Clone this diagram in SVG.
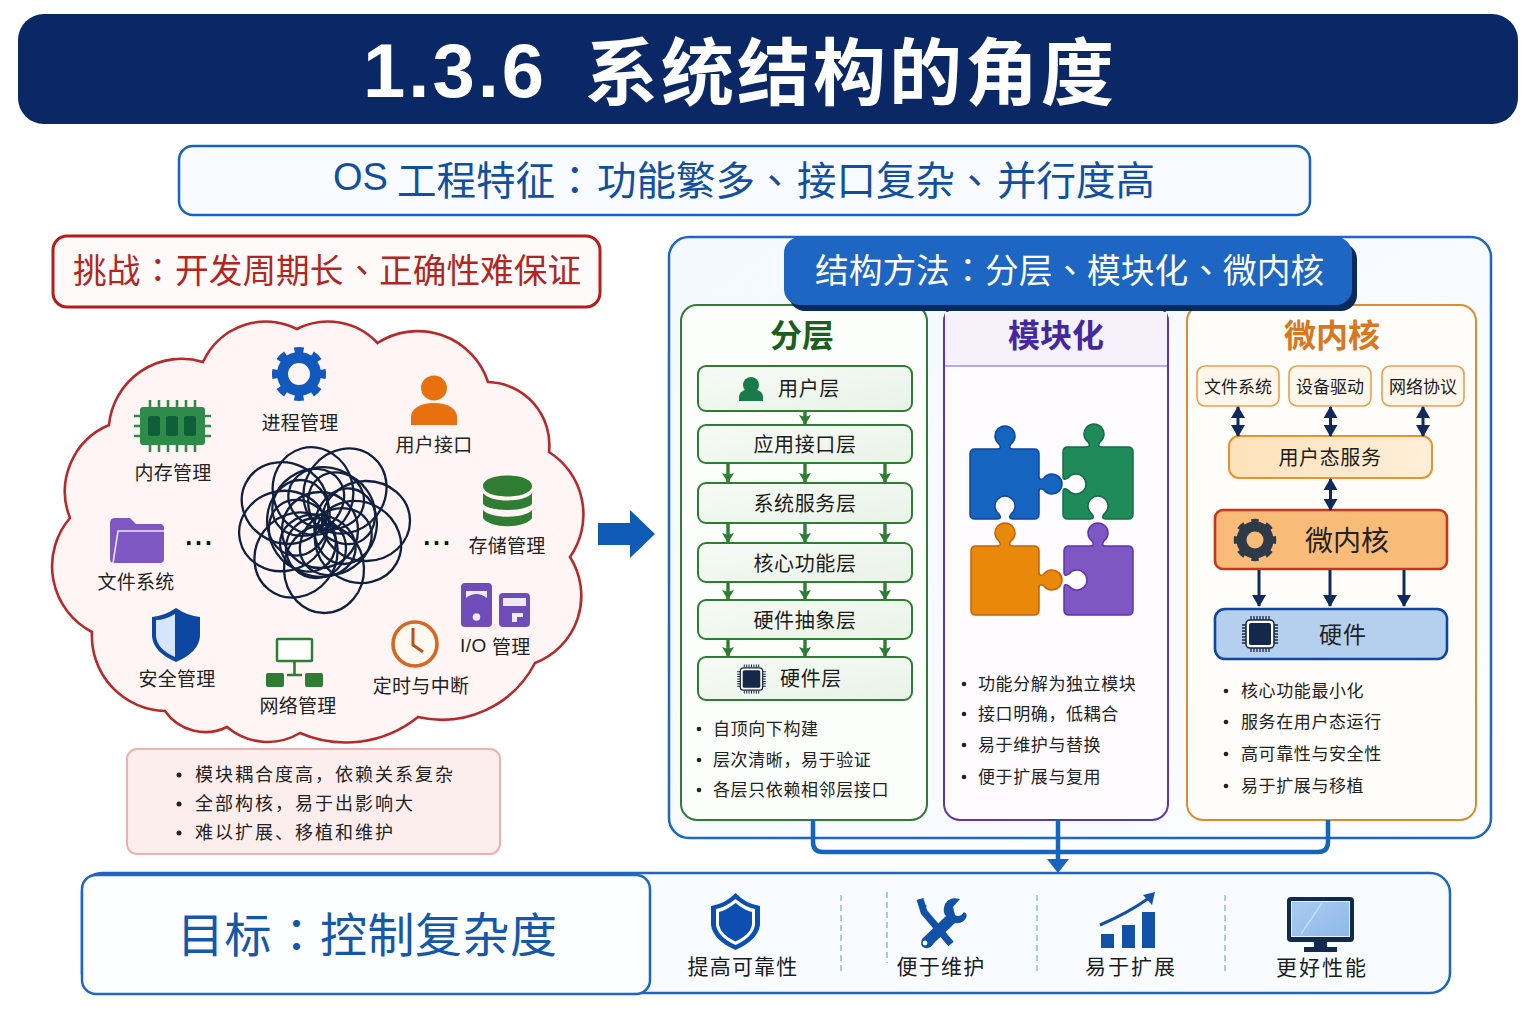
<svg xmlns="http://www.w3.org/2000/svg" xmlns:xlink="http://www.w3.org/1999/xlink" width="1536" height="1024" viewBox="0 0 1536 1024">
<style>
text{font-family:"Noto Sans CJK SC","Liberation Sans",sans-serif;fill:#1a1a1a;dominant-baseline:central;transform:translateY(-.09em)}
.m{text-anchor:middle}
.p{font-family:"Noto Sans CJK TC","Noto Sans CJK SC",sans-serif}
.ic{font-size:19px;letter-spacing:.3px;fill:#222}
.ly{font-size:20px;letter-spacing:.6px;fill:#1c1c1c}
.bl{font-size:17px;letter-spacing:.6px;fill:#222}
.pb{font-size:18px;letter-spacing:2px;fill:#222}
.gl{font-size:21px;letter-spacing:1.2px;fill:#1c1c1c}
.hd{font-size:32px;font-weight:700}
.sm{font-size:17px;fill:#1c1c1c}
.dots{font-size:25px;font-weight:700;letter-spacing:1.500px;font-family:"Liberation Sans",sans-serif;fill:#111}
.layer{fill:url(#gLayer);stroke:#2e7d32;stroke-width:2}
.small{fill:#fff7ec;stroke:#e8a050;stroke-width:1.6}
.gc{stroke:#2e7d32;stroke-width:3.4;fill:none;marker-end:url(#mGreen)}
.nv{stroke:#0f2a5c;stroke-width:3;fill:none;marker-end:url(#mNavy)}
.nd{stroke:#0f2a5c;stroke-width:3;fill:none;marker-end:url(#mNavy);marker-start:url(#mNavyS)}
.sep{stroke:#7fb0e0;stroke-width:1.3;stroke-dasharray:6 4}
</style>
<defs>
<linearGradient id="gLayer" x1="0" y1="0" x2="1" y2="1"><stop offset="0" stop-color="#f6fbf5"/><stop offset="1" stop-color="#e8f3e7"/></linearGradient>
<linearGradient id="gPanel" x1="0" y1="0" x2="1" y2="1"><stop offset="0" stop-color="#f4f9ff"/><stop offset="1" stop-color="#fbfdff"/></linearGradient>
<linearGradient id="gUser" x1="0" y1="0" x2="1" y2="0"><stop offset="0" stop-color="#fde2ba"/><stop offset="1" stop-color="#ffeed8"/></linearGradient>
<linearGradient id="gScreen" x1="0" y1="0" x2="1" y2="1"><stop offset="0" stop-color="#a9cbf0"/><stop offset="1" stop-color="#8fb9ea"/></linearGradient>
<marker id="mGreen" markerUnits="userSpaceOnUse" markerWidth="13" markerHeight="13" refX="10" refY="6" orient="auto"><path d="M0 0L10 6L0 12L2 6z" fill="#2e7d32"/></marker>
<marker id="mNavy" markerUnits="userSpaceOnUse" markerWidth="13" markerHeight="14" refX="11" refY="7" orient="auto"><path d="M0 0L12 7L0 14z" fill="#0f2a5c"/></marker>
<marker id="mNavyS" markerUnits="userSpaceOnUse" markerWidth="13" markerHeight="14" refX="1" refY="7" orient="auto"><path d="M12 0L0 7L12 14z" fill="#0f2a5c"/></marker>
<g id="chip">
<g fill="none" stroke="#1a2a44" stroke-width="1.3">
<path d="M-9 -14V-18M-6 -14V-18M-3 -14V-18M0 -14V-18M3 -14V-18M6 -14V-18M9 -14V-18"/>
<path d="M-9 14V18M-6 14V18M-3 14V18M0 14V18M3 14V18M6 14V18M9 14V18"/>
<path d="M-14 -9H-18M-14 -6H-18M-14 -3H-18M-14 0H-18M-14 3H-18M-14 6H-18M-14 9H-18"/>
<path d="M14 -9H18M14 -6H18M14 -3H18M14 0H18M14 3H18M14 6H18M14 9H18"/>
</g>
<rect x="-14" y="-14" width="28" height="28" rx="4" fill="#fff" stroke="#1a2a44" stroke-width="1.6"/>
<rect x="-11" y="-11" width="22" height="22" rx="2" fill="#14294a"/>
</g>
<ellipse id="r2" cx="322" cy="498" rx="38" ry="31"/>
</defs>

<rect width="1536" height="1024" fill="#fff"/>

<g id="title">
<rect x="18" y="14" width="1500" height="110" rx="26" fill="#0a2866"/>
<text x="363" y="77" style="font-size:76px;font-weight:700;fill:#fff;letter-spacing:3px;font-family:'Liberation Sans',sans-serif">1.3.6</text>
<text x="585" y="74" style="font-size:73px;font-weight:700;fill:#fff;letter-spacing:3px">系统结构的角度</text>
</g>

<g id="subtitle">
<rect x="179" y="146" width="1131" height="69" rx="14" fill="#f8fbff" stroke="#1565c0" stroke-width="2.5"/>
<text y="181" style="font-size:39.500px;fill:#12509f"><tspan x="333" style="font-family:'Liberation Sans',sans-serif;font-size:38px">OS</tspan><tspan x="397">工程特征</tspan><tspan class="p" x="555">：</tspan><tspan x="597">功能繁多</tspan><tspan class="p" x="755">、</tspan><tspan x="797">接口复杂</tspan><tspan class="p" x="955">、</tspan><tspan x="997">并行度高</tspan></text>
</g>

<g id="challenge">
<rect x="53" y="236" width="547" height="71" rx="14" fill="#fffafa" stroke="#b71c1c" stroke-width="3"/>
<text y="271" style="font-size:33.700px;fill:#b3261e"><tspan x="73">挑战</tspan><tspan class="p" x="141">：</tspan><tspan x="175">开发周期长</tspan><tspan class="p" x="345">、</tspan><tspan x="379">正确性难保证</tspan></text>
</g>

<g id="cloud">
<path d="M297 329A68 68 0 0 1 377.500 343A74 74 0 0 1 488 382A63 63 0 0 1 549 452A74 74 0 0 1 570 557A72 72 0 0 1 535 663A105 105 0 0 1 418 717A115 115 0 0 1 300 733A63 63 0 0 1 227 727A49 49 0 0 1 165 711A75 75 0 0 1 92 632A74 74 0 0 1 70 518A72 72 0 0 1 109 425A73 73 0 0 1 203 362A69 69 0 0 1 297 329Z" fill="#fff5f5" stroke="#b52a2a" stroke-width="2.600"/>
</g>

<g id="tangle" fill="none" stroke="#10203f" stroke-width="2.300">
<ellipse cx="285" cy="503" rx="44" ry="40" transform="rotate(27 285 503)"/>
<ellipse cx="313" cy="491" rx="44" ry="40" transform="rotate(75 313 491)"/>
<ellipse cx="345" cy="491" rx="44" ry="40" transform="rotate(-52 345 491)"/>
<ellipse cx="366" cy="521" rx="44" ry="40" transform="rotate(-1 366 521)"/>
<ellipse cx="358" cy="542" rx="44" ry="40" transform="rotate(29 358 542)"/>
<ellipse cx="324" cy="569" rx="44" ry="40" transform="rotate(88 324 569)"/>
<ellipse cx="296" cy="555" rx="44" ry="40" transform="rotate(-52 296 555)"/>
<ellipse cx="283" cy="531" rx="44" ry="40" transform="rotate(-12 283 531)"/>
<use href="#r2" transform="rotate(10 322 522)"/><use href="#r2" transform="rotate(55 322 522)"/><use href="#r2" transform="rotate(100 322 522)"/><use href="#r2" transform="rotate(145 322 522)"/><use href="#r2" transform="rotate(190 322 522)"/><use href="#r2" transform="rotate(235 322 522)"/><use href="#r2" transform="rotate(280 322 522)"/><use href="#r2" transform="rotate(325 322 522)"/>
<circle cx="320" cy="530" r="38"/>
<circle cx="316" cy="548" r="30"/>
</g>

<g id="node-process">
<circle cx="299" cy="374" r="16.500" fill="none" stroke="#1259bd" stroke-width="11"/>
<circle cx="299" cy="374" r="23.500" fill="none" stroke="#1259bd" stroke-width="7" pathLength="16" stroke-dasharray="1 1" stroke-dashoffset=".5"/>
<text class="ic m" x="300" y="423">进程管理</text>
</g>
<g id="node-memory">
<path d="M150 400V452M159 400V452M168 400V452M177 400V452M186 400V452M195 400V452M134 416H211M134 426H211M134 436H211" stroke="#2e8b4a" stroke-width="2.600" fill="none"/>
<rect x="140" y="407" width="65" height="38" rx="3" fill="#2e8b4a"/>
<rect x="148" y="416" width="12" height="20" rx="2" fill="#0e5f3a"/><rect x="166" y="416" width="12" height="20" rx="2" fill="#0e5f3a"/><rect x="184" y="416" width="12" height="20" rx="2" fill="#0e5f3a"/>
<text class="ic m" x="173" y="473">内存管理</text>
</g>
<g id="node-ui">
<ellipse cx="434" cy="388" rx="13" ry="12.500" fill="#e8700f"/>
<path d="M411 425V417C411 409 420 403 434 403S457 409 457 417V425Z" fill="#e8700f"/>
<text class="ic m" x="434" y="445">用户接口</text>
</g>
<g id="node-storage">
<path d="M483 486C483 472 532 472 532 486S483 500 483 486ZM483 493C490 503 525 503 532 493V504C525 512 490 512 483 504ZM483 510C490 519 525 519 532 510V518C525 529 490 529 483 518Z" fill="#2e7d32"/>
<text class="ic m" x="507" y="546">存储管理</text>
</g>
<g id="node-files">
<path d="M110 523Q110 518 115 518H130L136 524H160Q164 524 164 528V559Q164 563 160 563H114Q110 563 110 559Z" fill="#7e57c2"/>
<path d="M113 563L118 531H164" fill="none" stroke="#ece4f8" stroke-width="1.600"/>
<text class="ic m" x="136" y="582">文件系统</text>
<text class="dots m" x="200" y="545">···</text>
<text class="dots m" x="438" y="545">···</text>
</g>
<g id="node-security">
<path d="M176 608Q188 616 200 617V636Q199 652 176 662Q153 652 152 636V617Q164 616 176 608Z" fill="#0d47a1"/>
<path d="M175 614Q165 620 156 620V636Q157 649 175 657Z" fill="#d6e6fa"/>
<text class="ic m" x="177" y="679">安全管理</text>
</g>
<g id="node-network">
<rect x="277" y="639" width="35" height="22" rx="1" fill="#fff" stroke="#2e7d32" stroke-width="2.500"/>
<path d="M294.500 661V675M287 675H302" stroke="#2e7d32" stroke-width="2.600" fill="none"/>
<rect x="266" y="673" width="18" height="14" rx="2" fill="#2e7d32"/><rect x="305" y="673" width="18" height="14" rx="2" fill="#2e7d32"/>
<text class="ic m" x="298" y="706">网络管理</text>
</g>
<g id="node-timer">
<circle cx="415" cy="644" r="22" fill="#fff9f2" stroke="#d9661f" stroke-width="3.600"/>
<path d="M413 628V645L423 652" fill="none" stroke="#b9501a" stroke-width="3"/>
<text class="ic m" x="421" y="686">定时与中断</text>
</g>
<g id="node-io">
<rect x="461" y="583" width="31" height="44" rx="4" fill="#6f4db8"/>
<rect x="466" y="591" width="21" height="11" fill="#efeaf8"/><path d="M466 598Q476 590 487 598V602H466Z" fill="#6f4db8"/><circle cx="476.500" cy="617" r="3.800" fill="#efeaf8"/>
<rect x="499" y="593" width="31" height="34" rx="4" fill="#6f4db8"/>
<rect x="503" y="598" width="23" height="8" fill="#efeaf8"/><path d="M512 622V613H523V617H517V622Z" fill="#efeaf8"/>
<text x="460" y="647" style="font-size:19px;fill:#222;font-family:'Liberation Sans',sans-serif;letter-spacing:.5px">I/O</text>
<text class="ic" x="492" y="647">管理</text>
</g>

<g id="node-drawbacks">
<rect x="127" y="749" width="373" height="105" rx="10" fill="#fdeeee" stroke="#eeb0b0" stroke-width="2"/>
<circle cx="179" cy="775" r="2.500" fill="#222"/><text class="pb" x="195" y="775">模块耦合度高，依赖关系复杂</text>
<circle cx="179" cy="804" r="2.500" fill="#222"/><text class="pb" x="195" y="804">全部构核，易于出影响大</text>
<circle cx="179" cy="833" r="2.500" fill="#222"/><text class="pb" x="195" y="833">难以扩展、移植和维护</text>
</g>

<g id="node-methods">
<rect x="669" y="237" width="822" height="601" rx="20" fill="url(#gPanel)" stroke="#1e66c4" stroke-width="2.500"/>
</g>

<g id="panel-layers">
<rect x="681" y="305" width="246" height="515" rx="16" fill="#fbfefb" stroke="#2e7d32" stroke-width="2"/>
<text class="m hd" x="802" y="336" style="fill:#1b5e20">分层</text>
<g id="layer-user"><rect class="layer" x="698" y="366" width="214" height="45" rx="8"/>
<circle cx="751" cy="385" r="8" fill="#1b7a4b"/><path d="M739 401V397C739 392 744 389 751 389S763 392 763 397V401Z" fill="#1b7a4b"/>
<text class="ly m" x="809" y="389">用户层</text></g>
<g id="layer-app"><rect class="layer" x="698" y="425" width="214" height="38" rx="8"/><text class="ly m" x="805" y="445">应用接口层</text></g>
<g id="layer-service"><rect class="layer" x="698" y="483" width="214" height="40" rx="8"/><text class="ly m" x="805" y="504">系统服务层</text></g>
<g id="layer-core"><rect class="layer" x="698" y="543" width="214" height="39" rx="8"/><text class="ly m" x="805" y="564">核心功能层</text></g>
<g id="layer-hal"><rect class="layer" x="698" y="600" width="214" height="39" rx="8"/><text class="ly m" x="805" y="621">硬件抽象层</text></g>
<g id="layer-hw"><rect class="layer" x="698" y="657" width="214" height="43" rx="8"/>
<use href="#chip" transform="translate(751.500 679) scale(.8)"/>
<text class="ly m" x="811" y="679">硬件层</text></g>
<circle cx="699" cy="729" r="2.300" fill="#222"/><text class="bl" x="713" y="729">自顶向下构建</text>
<circle cx="699" cy="760" r="2.300" fill="#222"/><text class="bl" x="713" y="760">层次清晰，易于验证</text>
<circle cx="699" cy="790" r="2.300" fill="#222"/><text class="bl" x="713" y="790">各层只依赖相邻层接口</text>
</g>

<g id="panel-modules">
<rect x="944" y="305" width="224" height="515" rx="16" fill="#fefcff" stroke="#5e35b1" stroke-width="2"/>
<path d="M945 312H1167V366H945Z" fill="#f4f1fb"/>
<path d="M945 366H1167" stroke="#b9a9dc" stroke-width="2"/>
<text class="m hd" x="1056" y="336" style="fill:#4527a0">模块化</text>
<path d="M975 449H997C1001 449 1001 447 999 444A10 10 0 1 1 1011 444C1009 447 1009 449 1013 449H1034Q1039 449 1039 454V476C1039 480 1041 480 1044 478A10 10 0 1 1 1044 490C1041 488 1039 488 1039 492V514Q1039 519 1034 519H1013C1009 519 1009 517 1011 514A10 10 0 1 0 999 514C1001 517 1001 519 997 519H975Q970 519 970 514V454Q970 449 975 449Z" fill="#1565c0" stroke="#0d47a1" stroke-width="1.500"/>
<path d="M1068 447H1086C1090 447 1090 445 1088 442A10 10 0 1 1 1100 442C1098 445 1098 447 1102 447H1128Q1133 447 1133 452V514Q1133 519 1128 519H1106C1102 519 1102 517 1104 514A10 10 0 1 0 1092 514C1094 517 1094 519 1090 519H1068Q1063 519 1063 514V492C1063 488 1065 488 1068 490A10 10 0 1 0 1068 478C1065 480 1063 480 1063 476V452Q1063 447 1068 447Z" fill="#1f8a5a" stroke="#176b45" stroke-width="1.500"/>
<path d="M976 546H997C1001 546 1001 544 999 541A10 10 0 1 1 1011 541C1009 544 1009 546 1013 546H1034Q1039 546 1039 551V572C1039 576 1041 576 1044 574A10 10 0 1 1 1044 586C1041 584 1039 584 1039 588V610Q1039 615 1034 615H976Q971 615 971 610V551Q971 546 976 546Z" fill="#e8890c" stroke="#c5620a" stroke-width="1.500"/>
<path d="M1069 546H1090C1094 546 1094 544 1092 541A10 10 0 1 1 1104 541C1102 544 1102 546 1106 546H1128Q1133 546 1133 551V610Q1133 615 1128 615H1069Q1064 615 1064 610V588C1064 584 1066 584 1069 586A10 10 0 1 0 1069 574C1066 576 1064 576 1064 572V551Q1064 546 1069 546Z" fill="#7e57c2" stroke="#5e35b1" stroke-width="1.500"/>
<circle cx="964" cy="684" r="2.300" fill="#222"/><text class="bl" x="978" y="684">功能分解为独立模块</text>
<circle cx="964" cy="714" r="2.300" fill="#222"/><text class="bl" x="978" y="714">接口明确，低耦合</text>
<circle cx="964" cy="745" r="2.300" fill="#222"/><text class="bl" x="978" y="745">易于维护与替换</text>
<circle cx="964" cy="777" r="2.300" fill="#222"/><text class="bl" x="978" y="777">便于扩展与复用</text>
</g>

<g id="panel-microkernel">
<rect x="1187" y="305" width="289" height="515" rx="16" fill="#fffdf9" stroke="#e08a2b" stroke-width="2"/>
<text class="m hd" x="1332" y="336" style="fill:#d9771f">微内核</text>
<g id="svc-fs"><rect class="small" x="1197" y="366" width="82" height="40" rx="8"/><text class="sm m" x="1238" y="387">文件系统</text></g>
<g id="svc-driver"><rect class="small" x="1289" y="366" width="82" height="40" rx="8"/><text class="sm m" x="1330" y="387">设备驱动</text></g>
<g id="svc-net"><rect class="small" x="1382" y="366" width="82" height="40" rx="8"/><text class="sm m" x="1423" y="387">网络协议</text></g>
<g id="svc-user"><rect x="1229" y="436" width="203" height="42" rx="10" fill="url(#gUser)" stroke="#e8932f" stroke-width="2"/><text class="ly m" x="1330" y="458">用户态服务</text></g>
<g id="kernel"><rect x="1215" y="510" width="232" height="59" rx="8" fill="#f9bb78" stroke="#c8371a" stroke-width="2.600"/>
<circle cx="1255" cy="540" r="13.500" fill="none" stroke="#2f3a48" stroke-width="10"/>
<circle cx="1255" cy="540" r="18.500" fill="none" stroke="#2f3a48" stroke-width="5.500" pathLength="16" stroke-dasharray="1 1" stroke-dashoffset=".5"/>
<text class="m" x="1347" y="542" style="font-size:28px;fill:#222">微内核</text></g>
<g id="hardware"><rect x="1215" y="609" width="232" height="50" rx="10" fill="#b5d0ee" stroke="#0d47a1" stroke-width="2.600"/>
<use href="#chip" transform="translate(1260 634)"/>
<text class="m" x="1343" y="635" style="font-size:23px;letter-spacing:1px;fill:#222">硬件</text></g>
<circle cx="1226" cy="691" r="2.300" fill="#222"/><text class="bl" x="1241" y="691">核心功能最小化</text>
<circle cx="1226" cy="722" r="2.300" fill="#222"/><text class="bl" x="1241" y="722">服务在用户态运行</text>
<circle cx="1226" cy="754" r="2.300" fill="#222"/><text class="bl" x="1241" y="754">高可靠性与安全性</text>
<circle cx="1226" cy="786" r="2.300" fill="#222"/><text class="bl" x="1241" y="786">易于扩展与移植</text>
</g>

<g id="methods-header">
<rect x="789" y="243" width="568" height="68" rx="16" fill="#0b2a5c"/>
<rect x="784" y="237" width="568" height="68" rx="16" fill="#1e66c4"/>
<text y="271" style="font-size:33.700px;fill:#fff"><tspan x="815">结构方法</tspan><tspan class="p" x="951">：</tspan><tspan x="985">分层</tspan><tspan class="p" x="1053">、</tspan><tspan x="1087">模块化</tspan><tspan class="p" x="1189">、</tspan><tspan x="1223">微内核</tspan></text>
</g>

<g id="node-goal">
<rect x="82" y="873" width="1368" height="120" rx="20" fill="#f8fbff" stroke="#1e66c4" stroke-width="2.500"/>
<rect x="82" y="875" width="568" height="119" rx="14" fill="#fdfeff" stroke="#1e66c4" stroke-width="2.500"/>
<text y="935" style="font-size:47px;letter-spacing:.5px;fill:#1557a8"><tspan x="177">目标</tspan><tspan class="p" x="273">：</tspan><tspan x="320">控制复杂度</tspan></text>
<path class="sep" d="M841 895V971M887 892V963M1037 895V971M1225 895V971"/>
</g>
<g id="goal-reliable">
<path d="M735.500 893Q746 904 760 906V925Q758 940 735.500 950Q713 940 711 925V906Q725 904 735.500 893Z" fill="#0d4fb0"/>
<path d="M735.500 899Q745 907 755 909V925Q753 937 735.500 945Q718 937 716 925V909Q726 907 735.500 899Z" fill="#fff"/>
<path d="M735.500 903Q744 910 752 912V925Q750 935 735.500 941.500Q721 935 719 925V912Q727 910 735.500 903Z" fill="#0d4fb0"/>
<text class="gl m" x="743" y="967">提高可靠性</text>
</g>
<g id="goal-maintain">
<path d="M920 899L924 912L951 944" stroke="#1251a8" stroke-width="7" fill="none"/>
<path d="M918 899L927 906L922 911Z" fill="#1251a8"/>
<path d="M964 912Q960 918 955 915L953 907L960 899Q950 896 945 904Q942 912 946 916L922 939Q919 946 925 948Q931 949 934 943L955 923Q963 924 966 918Q968 914 964 912Z" fill="#1251a8"/>
<circle cx="925" cy="943" r="2.400" fill="#fff"/><circle cx="959" cy="943" r="2.400" fill="#fff"/>
<text class="gl m" x="941" y="967">便于维护</text>
</g>
<g id="goal-scale">
<rect x="1101" y="934" width="13" height="14" fill="#1251a8"/><rect x="1122" y="925" width="13" height="23" fill="#1251a8"/><rect x="1142" y="912" width="13" height="36" fill="#1251a8"/>
<path d="M1100 925Q1128 913 1149 898" stroke="#1251a8" stroke-width="3" fill="none"/><path d="M1155 892L1152 905L1143 895Z" fill="#1251a8"/>
<text class="gl m" x="1131" y="967" style="letter-spacing:2px">易于扩展</text>
</g>
<g id="goal-performance">
<rect x="1287" y="897" width="67" height="45" rx="4" fill="#0f2a4d"/>
<rect x="1291" y="901" width="59" height="36" fill="#e8f1fb"/><rect x="1292" y="902" width="57" height="34" fill="url(#gScreen)"/>
<path d="M1301 934L1322 903" stroke="#c8dcf4" stroke-width="1.500"/>
<path d="M1314 942H1327V947H1337V952H1304V947H1314Z" fill="#0f2a4d"/>
<text class="gl m" x="1322" y="968" style="letter-spacing:2px">更好性能</text>
</g>

<g id="connectors">
<path d="M598 523H630V510L655 534L630 558V545H598Z" fill="#0d5bb5"/>
<path class="gc" d="M805 411V425"/>
<path class="gc" d="M728 463V483"/><path class="gc" d="M805 463V483"/><path class="gc" d="M885 463V483"/>
<path class="gc" d="M728 523V543"/><path class="gc" d="M805 523V543"/><path class="gc" d="M885 523V543"/>
<path class="gc" d="M728 582V600"/><path class="gc" d="M805 582V600"/><path class="gc" d="M885 582V600"/>
<path class="gc" d="M728 639V657"/><path class="gc" d="M805 639V657"/><path class="gc" d="M885 639V657"/>
<path class="nd" d="M1238 407V436"/><path class="nd" d="M1330.500 407V436"/><path class="nd" d="M1423 407V436"/><path class="nd" d="M1330.500 479V510"/>
<path class="nv" d="M1259 570V606"/><path class="nv" d="M1330 570V606"/><path class="nv" d="M1404 570V606"/>
<path d="M813 820V842Q813 852 823 852H1318Q1328 852 1328 842V820M1058 820V860" fill="none" stroke="#1565c0" stroke-width="4.500"/>
<path d="M1047 859H1069L1058 873Z" fill="#1565c0"/>
</g>
</svg>
